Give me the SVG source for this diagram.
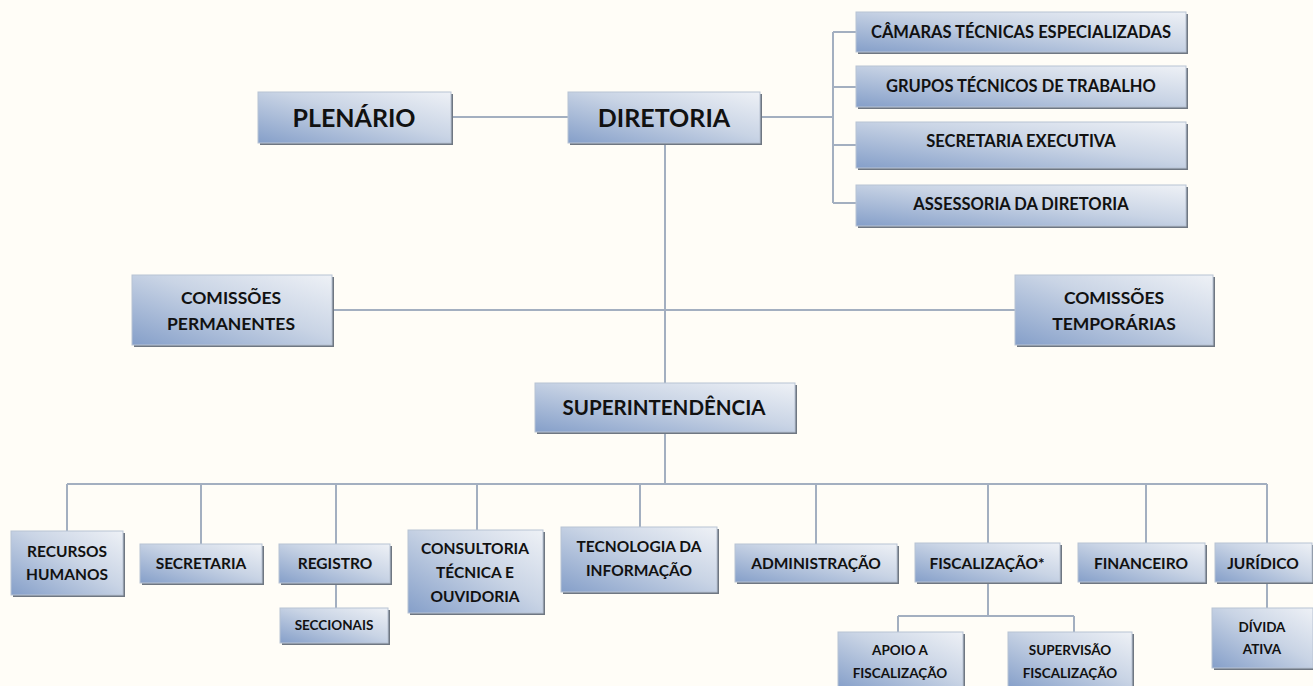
<svg xmlns="http://www.w3.org/2000/svg" width="1313" height="686" viewBox="0 0 1313 686">
<defs>
<linearGradient id="g" x1="0" y1="1" x2="1" y2="0">
<stop offset="0" stop-color="#859fc9"/>
<stop offset="0.55" stop-color="#c9d4e5"/>
<stop offset="1" stop-color="#eef1f6"/>
</linearGradient>
<style>
.bx{fill:url(#g);stroke:#b8c3d3;stroke-width:1}
.sh{fill:#6f7782}
.t{font-family:Lato,"Open Sans","Liberation Sans",sans-serif;font-weight:bold;fill:#111;text-anchor:middle}
.c{stroke:#a3afc0;stroke-width:2;fill:none}
</style>
</defs>
<rect width="1313" height="686" fill="#fffdf7"/>
<g id="connectors">
<path class="c" d="M451 117H568M760 117H833M833 32V203M833 32H856M833 87H856M833 145H856M833 203H856"/>
<path class="c" d="M665 143V383M332 310H1015M665 432V484M67 484H1267"/>
<path class="c" d="M67 484V531M201 484V544M336 484V544M477 484V530M640 484V527M816 484V544M988 484V543M1146 484V543M1267 484V543"/>
<path class="c" d="M336 583V608M988 582V616M898 616H1074M898 616V632M1074 616V632M1267 582V608"/>
</g>
<g id="plenario"><rect class="sh" x="260" y="94" width="193" height="51"/><rect class="bx" x="258" y="92" width="193" height="51"/><text class="t" x="354" y="127" font-size="25">PLENÁRIO</text></g>
<g id="diretoria"><rect class="sh" x="570" y="94" width="192" height="51"/><rect class="bx" x="568" y="92" width="192" height="51"/><text class="t" x="664" y="127" font-size="25">DIRETORIA</text></g>
<g id="camaras"><rect class="sh" x="858" y="14" width="330" height="40"/><rect class="bx" x="856" y="12" width="330" height="40"/><text class="t" x="1021" y="38" font-size="16.5">CÂMARAS TÉCNICAS ESPECIALIZADAS</text></g>
<g id="grupos"><rect class="sh" x="858" y="68" width="330" height="41"/><rect class="bx" x="856" y="66" width="330" height="41"/><text class="t" x="1021" y="92" font-size="16.5">GRUPOS TÉCNICOS DE TRABALHO</text></g>
<g id="secexec"><rect class="sh" x="858" y="124" width="330" height="46"/><rect class="bx" x="856" y="122" width="330" height="46"/><text class="t" x="1021" y="147" font-size="16.5">SECRETARIA EXECUTIVA</text></g>
<g id="assessoria"><rect class="sh" x="858" y="187" width="330" height="41"/><rect class="bx" x="856" y="185" width="330" height="41"/><text class="t" x="1021" y="210" font-size="16.5">ASSESSORIA DA DIRETORIA</text></g>
<g id="comperm"><rect class="sh" x="134" y="277" width="200" height="70"/><rect class="bx" x="132" y="275" width="200" height="70"/><text class="t" x="231" y="304" font-size="17.5">COMISSÕES</text><text class="t" x="231" y="330" font-size="17.5">PERMANENTES</text></g>
<g id="comtemp"><rect class="sh" x="1017" y="277" width="198" height="70"/><rect class="bx" x="1015" y="275" width="198" height="70"/><text class="t" x="1114" y="304" font-size="17.5">COMISSÕES</text><text class="t" x="1114" y="330" font-size="17.5">TEMPORÁRIAS</text></g>
<g id="super"><rect class="sh" x="537" y="385" width="260" height="49"/><rect class="bx" x="535" y="383" width="260" height="49"/><text class="t" x="664" y="415" font-size="20.5">SUPERINTENDÊNCIA</text></g>
<g id="rh"><rect class="sh" x="13" y="533" width="112" height="64"/><rect class="bx" x="11" y="531" width="112" height="64"/><text class="t" x="67" y="557" font-size="15.5">RECURSOS</text><text class="t" x="67" y="580" font-size="15.5">HUMANOS</text></g>
<g id="secretaria"><rect class="sh" x="142" y="546" width="122" height="39"/><rect class="bx" x="140" y="544" width="122" height="39"/><text class="t" x="201" y="569" font-size="15.5">SECRETARIA</text></g>
<g id="registro"><rect class="sh" x="281" y="546" width="111" height="39"/><rect class="bx" x="279" y="544" width="111" height="39"/><text class="t" x="335" y="569" font-size="15.5">REGISTRO</text></g>
<g id="seccionais"><rect class="sh" x="282" y="610" width="108" height="35"/><rect class="bx" x="280" y="608" width="108" height="35"/><text class="t" x="334" y="630" font-size="13.5">SECCIONAIS</text></g>
<g id="consultoria"><rect class="sh" x="410" y="532" width="135" height="83"/><rect class="bx" x="408" y="530" width="135" height="83"/><text class="t" x="475" y="554" font-size="15.5">CONSULTORIA</text><text class="t" x="475" y="578" font-size="15.5">TÉCNICA E</text><text class="t" x="475" y="602" font-size="15.5">OUVIDORIA</text></g>
<g id="ti"><rect class="sh" x="563" y="529" width="156" height="65"/><rect class="bx" x="561" y="527" width="156" height="65"/><text class="t" x="639" y="552" font-size="15.5">TECNOLOGIA DA</text><text class="t" x="639" y="576" font-size="15.5">INFORMAÇÃO</text></g>
<g id="adm"><rect class="sh" x="737" y="546" width="162" height="38"/><rect class="bx" x="735" y="544" width="162" height="38"/><text class="t" x="816" y="569" font-size="15.5">ADMINISTRAÇÃO</text></g>
<g id="fisc"><rect class="sh" x="917" y="545" width="145" height="39"/><rect class="bx" x="915" y="543" width="145" height="39"/><text class="t" x="987" y="569" font-size="15.5">FISCALIZAÇÃO*</text></g>
<g id="fin"><rect class="sh" x="1080" y="545" width="127" height="39"/><rect class="bx" x="1078" y="543" width="127" height="39"/><text class="t" x="1141" y="569" font-size="15.5">FINANCEIRO</text></g>
<g id="jur"><rect class="sh" x="1217" y="545" width="97" height="39"/><rect class="bx" x="1215" y="543" width="97" height="39"/><text class="t" x="1263" y="569" font-size="15.5">JURÍDICO</text></g>
<g id="divida"><rect class="sh" x="1214" y="610" width="100" height="60"/><rect class="bx" x="1212" y="608" width="101" height="60"/><text class="t" x="1262" y="632" font-size="13.5">DÍVIDA</text><text class="t" x="1262" y="654" font-size="13.5">ATIVA</text></g>
<g id="apoio"><rect class="sh" x="840" y="634" width="125" height="54"/><rect class="bx" x="838" y="632" width="125" height="56"/><text class="t" x="900" y="655" font-size="13.5">APOIO A</text><text class="t" x="900" y="678" font-size="13.5">FISCALIZAÇÃO</text></g>
<g id="supervisao"><rect class="sh" x="1010" y="634" width="124" height="54"/><rect class="bx" x="1008" y="632" width="124" height="56"/><text class="t" x="1070" y="655" font-size="13.5">SUPERVISÃO</text><text class="t" x="1070" y="678" font-size="13.5">FISCALIZAÇÃO</text></g>
</svg>
